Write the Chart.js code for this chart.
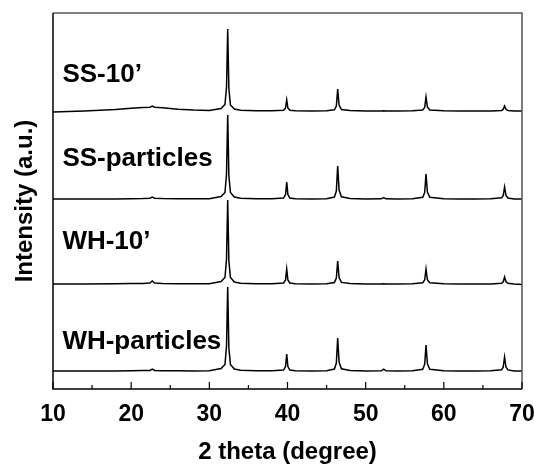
<!DOCTYPE html>
<html>
<head>
<meta charset="utf-8">
<script src="https://cdn.jsdelivr.net/npm/chart.js@4.4.1/dist/chart.umd.min.js"></script>
<style>
  html, body { margin: 0; padding: 0; background: #fff; }
  #xrd { display: block; }
</style>
</head>
<body>
<canvas id="xrd" width="534" height="464"></canvas>
<script>
// 2-theta positions of the sampled points (degree)
const twoTheta = [10, 14, 18, 20, 21.5, 22.4, 22.7, 23.0, 24, 26, 28, 30,
  31.5, 32.0, 32.2, 32.35, 32.5, 32.7, 33.2, 34, 36, 38,
  39.5, 39.75, 39.9, 40.05, 40.3, 41, 43, 45,
  46.0, 46.25, 46.42, 46.6, 46.9, 48, 50,
  52.0, 52.3, 52.6, 54, 56,
  57.3, 57.55, 57.72, 57.9, 58.2, 60, 62, 64, 66,
  67.4, 67.6, 67.77, 67.95, 68.2, 69, 70];

// intensities above each pattern's own baseline (a.u.)
const ss10 = [-1, 0, 1.5, 2.7, 3.4, 3.8, 5, 3.8, 3.2, 1.8, 0.9, 0.4,
  2.5, 6.5, 24, 82, 22, 6, 2, 0.8, 0.3, 0.2,
  0.8, 3, 11, 3, 0.8, 0.3, 0, 0.2,
  1.2, 5, 22, 6, 1.5, 0.4, 0,
  0, 0.3, 0, 0, 0.2,
  1, 3.5, 14, 4, 1, 0.2, 0, 0, 0.1,
  0.6, 1.8, 5, 1.8, 0.5, 0, 0];

const ssParticles = [0, 0, 0, 0.3, 0.5, 0.8, 2, 0.8, 0.5, 0.3, 0.2, 0.3,
  2.5, 6.5, 25, 84, 23, 6.5, 2, 0.8, 0.3, 0.3,
  1, 4.5, 17, 4.5, 1, 0.3, 0, 0.3,
  2, 8, 33, 9, 2.2, 0.5, 0,
  0.2, 1.5, 0.2, 0, 0.3,
  1.8, 6.5, 25, 7, 1.8, 0.3, 0, 0, 0.2,
  1.2, 3.5, 12, 3.5, 1, 0.1, 0];

const wh10 = [0, 0, 0.2, 0.4, 0.6, 1, 3, 1, 0.5, 0.3, 0.2, 0.3,
  2.5, 6.5, 25, 84, 23, 6.5, 2, 0.8, 0.3, 0.2,
  1, 4, 15, 4, 1, 0.3, 0, 0.3,
  1.5, 6, 23, 6.5, 1.6, 0.4, 0,
  0, 0.3, 0, 0, 0.2,
  1.2, 4, 15, 4.2, 1.2, 0.2, 0, 0, 0.1,
  0.8, 2.2, 7, 2.2, 0.7, 0, -0.5];

const whParticles = [0, 0, 0, 0.2, 0.4, 0.6, 2, 0.6, 0.3, 0.2, 0.1, 0.3,
  2.5, 6.5, 25, 84, 23, 6.5, 2, 0.8, 0.3, 0.3,
  1, 4.5, 17, 4.5, 1, 0.3, 0, 0.3,
  2, 8, 33, 9, 2.2, 0.5, 0,
  0.2, 1.8, 0.2, 0, 0.3,
  1.8, 6.8, 26, 7.2, 1.8, 0.3, 0, 0, 0.2,
  1.3, 4, 14, 4, 1.1, 0.1, 0];

const sampleNames = ['SS-10\u2019', 'SS-particles', 'WH-10\u2019', 'WH-particles'];
const patterns = [ss10, ssParticles, wh10, whParticles];
const stackOffsets = [278, 190, 105, 18];

const majorTicks = [10, 20, 30, 40, 50, 60, 70];
const minorTicks = [15, 25, 35, 45, 55, 65];

// where the sample names sit (y in axis units)
const nameLevels = [314, 230, 147, 47];

Chart.defaults.font.family = '"Liberation Sans", Arial, sans-serif';
Chart.defaults.color = '#000';

// box around the plot, inward ticks on the 2-theta axis, sample names
const frameAndNames = {
    id: 'frameAndNames',
    afterDatasetsDraw(chart) {
        const { ctx, chartArea: a, scales: { x, y } } = chart;
        ctx.save();
        ctx.lineWidth = 1.5;
        ctx.strokeStyle = '#555';
        ctx.beginPath();
        ctx.moveTo(a.left, a.top);
        ctx.lineTo(a.right, a.top);
        ctx.lineTo(a.right, a.bottom);
        ctx.stroke();
        ctx.strokeStyle = '#000';
        ctx.beginPath();
        ctx.moveTo(a.left, a.top);
        ctx.lineTo(a.left, a.bottom);
        ctx.lineTo(a.right, a.bottom);
        ctx.stroke();

        ctx.lineWidth = 1.2;
        majorTicks.forEach(v => {
            const px = x.getPixelForValue(v);
            ctx.beginPath();
            ctx.moveTo(px, a.bottom);
            ctx.lineTo(px, a.bottom - 7);
            ctx.stroke();
        });
        minorTicks.forEach(v => {
            const px = x.getPixelForValue(v);
            ctx.beginPath();
            ctx.moveTo(px, a.bottom);
            ctx.lineTo(px, a.bottom - 4);
            ctx.stroke();
        });

        ctx.fillStyle = '#000';
        ctx.font = 'bold 26px "Liberation Sans", Arial, sans-serif';
        ctx.textAlign = 'left';
        ctx.textBaseline = 'middle';
        sampleNames.forEach((name, i) => {
            ctx.fillText(name, x.getPixelForValue(11.2), y.getPixelForValue(nameLevels[i]));
        });
        ctx.restore();
    }
};

const xrd = document.getElementById('xrd');

new Chart(xrd, {
    type: 'line',
    data: {
        datasets: patterns.map((p, i) => ({
            label: sampleNames[i],
            data: twoTheta.map((t, k) => ({ x: t, y: stackOffsets[i] + p[k] })),
            borderColor: '#000',
            borderWidth: 1.5,
            pointRadius: 0,
            tension: 0,
            fill: false
        }))
    },
    options: {
        responsive: false,
        animation: false,
        layout: {
            padding: { top: 13, right: 12, left: 0, bottom: 0 }
        },
        scales: {
            x: {
                type: 'linear',
                min: 10,
                max: 70,
                afterBuildTicks(scale) {
                    scale.ticks = majorTicks.map(v => ({ value: v }));
                },
                afterFit(scale) {
                    // let the "70" label run to the canvas edge
                    scale.height = 75;
                    scale.paddingLeft = 0;
                    scale.paddingRight = 0;
                },
                ticks: {
                    padding: 4,
                    font: { size: 23, weight: 'bold' },
                    color: '#000'
                },
                grid: { display: false },
                border: { display: false },
                title: {
                    display: true,
                    text: '2 theta (degree)',
                    font: { size: 24, weight: 'bold', lineHeight: 1 },
                    padding: 0,
                    color: '#000'
                }
            },
            y: {
                min: 0,
                max: 376,
                afterFit(scale) {
                    scale.width = 53;
                },
                ticks: { display: false },
                grid: { display: false },
                border: { display: false },
                title: {
                    display: true,
                    text: 'Intensity (a.u.)',
                    font: { size: 24, weight: 'bold', lineHeight: 1 },
                    padding: { top: 13, bottom: 0 },
                    color: '#000'
                }
            }
        },
        plugins: {
            legend: { display: false },
            tooltip: { enabled: false }
        }
    },
    plugins: [frameAndNames]
});
</script>
</body>
</html>
